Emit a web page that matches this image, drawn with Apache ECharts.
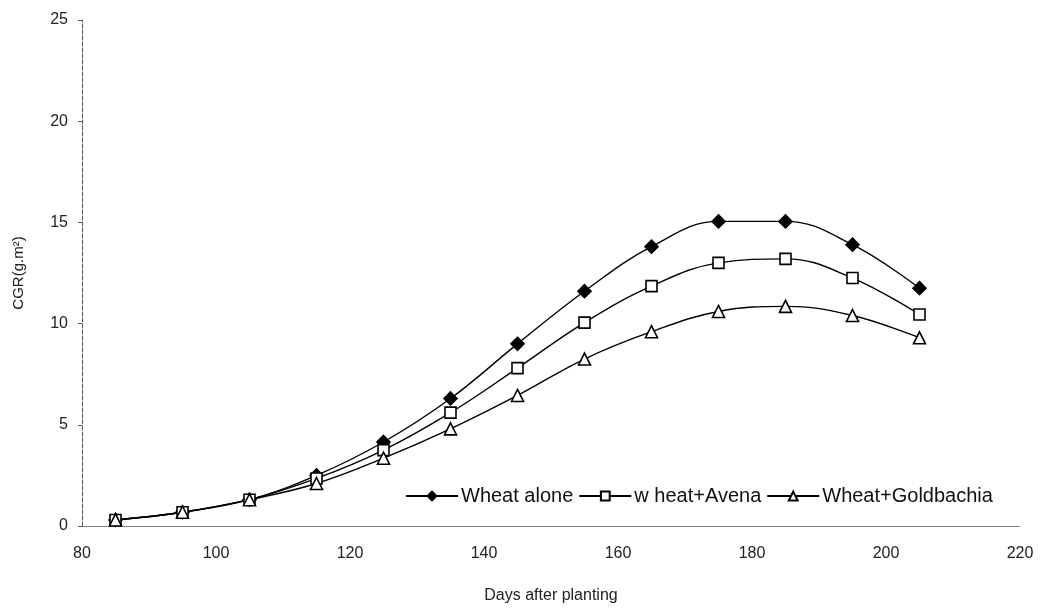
<!DOCTYPE html>
<html>
<head>
<meta charset="utf-8">
<script src="https://cdn.jsdelivr.net/npm/echarts@6/dist/echarts.min.js"></script>
<style>
  html, body { margin: 0; padding: 0; background: #fff; }
  #chart-container { width: 1044px; height: 609px; }
</style>
</head>
<body>
<div id="chart-container"></div>
<script>
// 数据
var days = [85, 95, 105, 115, 125, 135, 145, 155, 165, 175, 185, 195, 205];
var wheatAlone = [0.3, 0.68, 1.3, 2.5, 4.15, 6.3, 9.0, 11.6, 13.8, 15.05, 15.05, 13.9, 11.75];
var wheatAvena = [0.3, 0.68, 1.3, 2.35, 3.75, 5.6, 7.8, 10.05, 11.85, 13.0, 13.2, 12.25, 10.45];
var wheatGold = [0.3, 0.68, 1.3, 2.1, 3.35, 4.8, 6.45, 8.25, 9.6, 10.6, 10.85, 10.4, 9.3];

var container = document.getElementById('chart-container');
var myChart = echarts.init(container);

function pairs(values) {
    return days.map(function (d, i) { return [d, values[i]]; });
}

function makeSeries(name, values, symbol, size, filled) {
    return {
        name: name,
        type: 'line',
        data: pairs(values),
        smooth: 0.4,
        symbol: symbol,
        symbolSize: size,
        lineStyle: { color: '#000', width: 1.4 },
        itemStyle: {
            color: filled ? '#000' : '#fff',
            borderColor: '#000',
            borderWidth: 1.6
        },
        z: 3
    };
}

var fontFamily = '"Liberation Sans", Arial, sans-serif';

myChart.setOption({
    animation: false,
    textStyle: { fontFamily: fontFamily, color: '#222' },
    grid: { left: 82, right: 24, top: 20, bottom: 82, containLabel: false },
    legend: {
        left: 400,
        top: 481,
        itemWidth: 52,
        itemHeight: 11,
        itemGap: 5,
        textStyle: { fontSize: 20, color: '#111', fontFamily: fontFamily, padding: [0, 0, 0, -2] },
        data: ['Wheat alone', 'w heat+Avena', 'Wheat+Goldbachia']
    },
    xAxis: {
        type: 'value',
        min: 80,
        max: 220,
        interval: 20,
        name: 'Days after planting',
        nameLocation: 'middle',
        nameGap: 62,
        nameTextStyle: { fontSize: 16, color: '#222' },
        axisLine: { show: true, lineStyle: { color: '#666', width: 1, type: 'dotted' } },
        axisTick: { show: false },
        axisLabel: { fontSize: 16, color: '#222', margin: 20 },
        splitLine: { show: false }
    },
    yAxis: {
        type: 'value',
        min: 0,
        max: 25,
        interval: 5,
        name: 'CGR(g.m²)',
        nameLocation: 'middle',
        nameGap: 56,
        nameTextStyle: { fontSize: 15, color: '#222' },
        axisLine: { show: true, lineStyle: { color: '#555', width: 1, type: 'dashed' } },
        axisTick: { show: true, length: 4, lineStyle: { color: '#555' } },
        axisLabel: { fontSize: 16, color: '#222', margin: 14 },
        splitLine: { show: false }
    },
    series: [
        makeSeries('Wheat alone', wheatAlone, 'diamond', 13, true),
        makeSeries('w heat+Avena', wheatAvena, 'rect', 11, false),
        makeSeries('Wheat+Goldbachia', wheatGold, 'triangle', 12, false)
    ]
});
</script>
</body>
</html>
